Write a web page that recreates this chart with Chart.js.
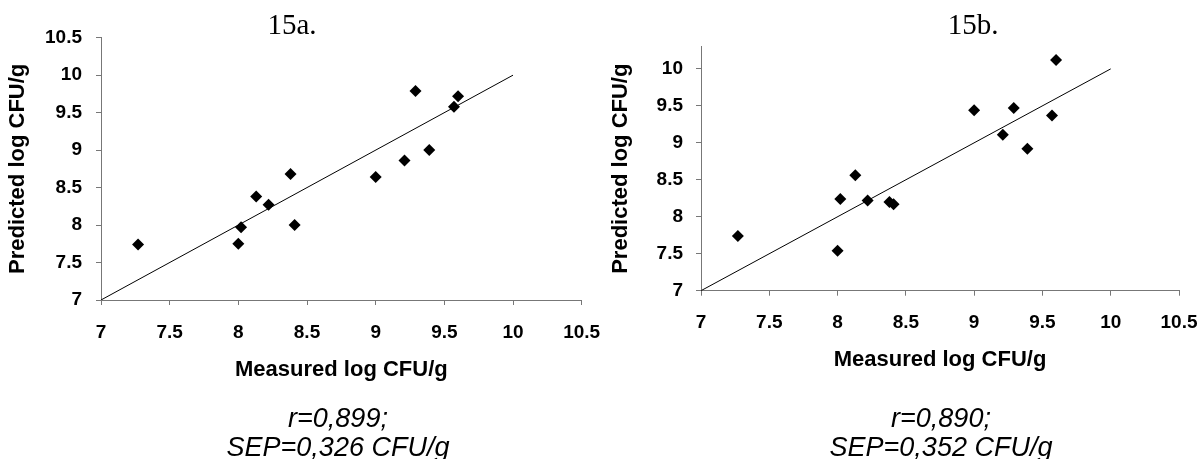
<!DOCTYPE html>
<html>
<head>
<meta charset="utf-8">
<script src="https://cdn.jsdelivr.net/npm/chart.js@4.4.1/dist/chart.umd.min.js"></script>
<style>
html,body{margin:0;padding:0;background:#fff;width:1202px;height:459px;overflow:hidden;}
.wrap{position:absolute;top:0;height:459px;}
.ttl{position:absolute;top:10px;font-family:"Liberation Serif","Times New Roman",serif;font-size:29px;line-height:29px;color:#000;transform:translateX(-50%);white-space:nowrap;}
.cap{position:absolute;top:404px;font-family:"Liberation Sans",Arial,sans-serif;font-style:italic;font-size:27px;line-height:29px;color:#000;transform:translateX(-50%);white-space:nowrap;text-align:center;}
</style>
</head>
<body>
<div class="wrap" style="left:0;width:600px"><canvas id="chartA" width="600" height="459"></canvas></div>
<div class="wrap" style="left:600px;width:602px"><canvas id="chartB" width="602" height="459"></canvas></div>
<div class="ttl" style="left:292px">15a.</div>
<div class="ttl" style="left:973px">15b.</div>
<div class="cap" style="left:338px">r=0,899;<br>SEP=0,326 CFU/g</div>
<div class="cap" style="left:941px">r=0,890;<br>SEP=0,352 CFU/g</div>
<script>
// measured values (shared by both panels)
const measured   = [7.27, 8.00, 8.02, 8.13, 8.22, 8.38, 8.41, 9.00, 9.21, 9.29, 9.39, 9.57, 9.60];
// panel 15a predicted values
const predictedA = [7.74, 7.75, 7.97, 8.38, 8.27, 8.68, 8.00, 8.64, 8.86, 9.79, 9.00, 9.58, 9.72];
// panel 15b predicted values
const predictedB = [7.74, 7.54, 8.24, 8.56, 8.22, 8.20, 8.17, 9.44, 9.11, 9.47, 8.92, 9.37, 10.12];
// 1:1 reference line
const lineX = [7, 10];
const lineY = [7, 10];
// tick labels
const xTicks  = [7, 7.5, 8, 8.5, 9, 9.5, 10, 10.5];
const yTicksA = [7, 7.5, 8, 8.5, 9, 9.5, 10, 10.5];
const yTicksB = [7, 7.5, 8, 8.5, 9, 9.5, 10];
const xTitle = 'Measured log CFU/g';
const yTitle = 'Predicted log CFU/g';

const FONT = '"Liberation Sans", Arial, sans-serif';
const AXIS = '#777777';

function makeChart(id, ys, cfg) {
  const pts = measured.map((x, i) => ({x: x, y: ys[i]}));
  const ref = lineX.map((x, i) => ({x: x, y: lineY[i]}));
  return new Chart(document.getElementById(id), {
    type: 'scatter',
    data: {
      datasets: [
        {data: pts, pointStyle: 'rectRot', pointRadius: 6, pointHoverRadius: 6,
         backgroundColor: '#000', borderColor: '#000', borderWidth: 0},
        {data: ref, showLine: true, borderColor: '#000', borderWidth: 1,
         pointRadius: 0, pointHoverRadius: 0, fill: false}
      ]
    },
    options: {
      responsive: false,
      animation: false,
      events: [],
      plugins: {legend: {display: false}, tooltip: {enabled: false}},
      layout: {padding: {left: 0, right: cfg.padRight, top: cfg.padTop, bottom: 0}},
      scales: {
        x: {
          type: 'linear', min: 7, max: 10.5,
          afterBuildTicks: s => { s.ticks = xTicks.map(v => ({value: v})); },
          afterFit: s => { s.height = cfg.xHeight; s.paddingLeft = 0; s.paddingRight = 0; },
          grid: {display: true, drawOnChartArea: false, drawTicks: true, tickLength: 5, color: AXIS},
          border: {display: true, color: AXIS, width: 1},
          ticks: {color: '#000', font: {family: FONT, size: 19, weight: 'bold'}, padding: cfg.xTickPad,
                  maxRotation: 0, autoSkip: false, callback: v => String(v)},
          title: {display: true, text: xTitle, color: '#000',
                  font: {family: FONT, size: 22, weight: 'bold'}, padding: {top: 0, bottom: cfg.xTitlePad}}
        },
        y: {
          type: 'linear', min: 7, max: cfg.yMax,
          afterBuildTicks: s => { s.ticks = cfg.yTicks.map(v => ({value: v})); },
          afterFit: s => { s.width = 101; s.paddingTop = 0; s.paddingBottom = 0; },
          grid: {display: true, drawOnChartArea: false, drawTicks: true, tickLength: 5, color: AXIS},
          border: {display: true, color: AXIS, width: 1},
          ticks: {color: '#000', font: {family: FONT, size: 19, weight: 'bold'}, padding: cfg.yTickPad,
                  autoSkip: false, callback: v => String(v)},
          title: {display: true, text: yTitle, color: '#000',
                  font: {family: FONT, size: 22, weight: 'bold'}, padding: {top: cfg.yTitlePad, bottom: 0}}
        }
      }
    }
  });
}

makeChart('chartA', predictedA, {padRight: 18.3, padTop: 37.7, xHeight: 159, xTickPad: 16.6, xTitlePad: 76,
  yMax: 10.5, yTicks: yTicksA, yTickPad: 14, yTitlePad: 5});
makeChart('chartB', predictedB, {padRight: 23, padTop: 46.7, xHeight: 168.3, xTickPad: 16, xTitlePad: 86,
  yMax: 10.3, yTicks: yTicksB, yTickPad: 13, yTitlePad: 8});
</script>
</body>
</html>
